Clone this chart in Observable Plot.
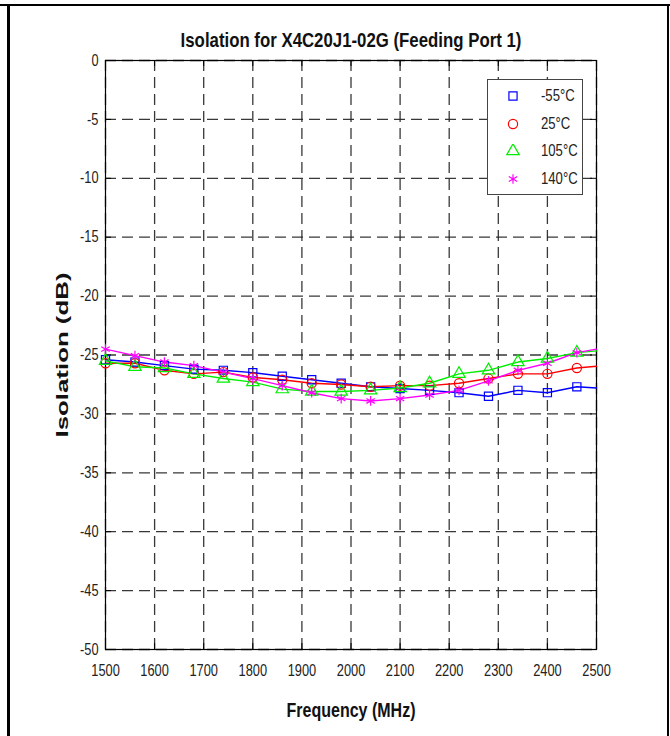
<!DOCTYPE html>
<html>
<head>
<meta charset="utf-8">
<script src="https://cdn.jsdelivr.net/npm/d3@7"></script>
<script src="https://cdn.jsdelivr.net/npm/@observablehq/plot@0.6"></script>
<style>
  body { margin: 0; background: #fff; }
  #wrap { position: relative; width: 670px; height: 736px; overflow: hidden; }
  .ln { position: absolute; background: #000; }
  #legend {
    position: absolute; left: 487px; top: 79px; width: 96px; height: 116px;
    background: #fff; border: 1px solid #444; box-sizing: border-box;
    font-family: "Liberation Sans", Arial, sans-serif; font-size: 16px; color: #222;
  }
  #legend .row { position: absolute; left: 0; height: 20px; width: 92px; }
  #legend svg { position: absolute; left: 18px; top: 3px; }
  #legend span { position: absolute; left: 53px; top: 1px; white-space: nowrap; display: inline-block; transform: scaleX(0.82); transform-origin: left center; }
</style>
</head>
<body>
<div id="wrap">
  <div id="chart"></div>
  <div class="ln" style="left:0;top:4px;width:670px;height:2px"></div>
  <div class="ln" style="left:7px;top:4px;width:3px;height:732px"></div>
  <div class="ln" style="left:667px;top:4px;width:2px;height:732px"></div>
  <div id="legend"></div>
</div>
<script>
// ---- data ----
const titleText = "Isolation for X4C20J1-02G (Feeding Port 1)";
const xLabel = "Frequency (MHz)";
const yLabel = "Isolation (dB)";
const xTicks = [1500, 1600, 1700, 1800, 1900, 2000, 2100, 2200, 2300, 2400, 2500];
const yTicks = [0, -5, -10, -15, -20, -25, -30, -35, -40, -45, -50];
const seriesLabels = ["-55°C", "25°C", "105°C", "140°C"];
const seriesColors = ["#0000ff", "#ff0000", "#00ee00", "#ff00ff"];
const seriesSymbols = ["square", "circle", "triangle", "asterisk"];
// frequencies (MHz); markers are shown up to 2460, lines run to 2500
const freq = [1500, 1560, 1620, 1680, 1740, 1800, 1860, 1920, 1980, 2040, 2100, 2160, 2220, 2280, 2340, 2400, 2460, 2500];
const iso_m55 = [-25.4, -25.6, -25.9, -26.2, -26.3, -26.5, -26.8, -27.1, -27.4, -27.7, -27.85, -28.0, -28.2, -28.5, -28.0, -28.2, -27.7, -27.8];
const iso_25  = [-25.7, -25.7, -26.3, -26.6, -26.45, -26.9, -27.1, -27.4, -27.5, -27.7, -27.6, -27.6, -27.4, -27.0, -26.6, -26.6, -26.1, -25.95];
const iso_105 = [-25.5, -26.0, -26.1, -26.6, -27.0, -27.3, -27.9, -28.1, -28.1, -28.0, -27.8, -27.4, -26.6, -26.3, -25.6, -25.3, -24.8, -24.65];
const iso_140 = [-24.5, -25.05, -25.6, -25.9, -26.45, -27.0, -27.6, -28.2, -28.7, -28.9, -28.7, -28.4, -28.0, -27.2, -26.3, -25.7, -24.8, -24.5];
const lastMarkerFreq = 2460;

const seriesValues = [iso_m55, iso_25, iso_105, iso_140];
const rows = [];
seriesValues.forEach((vals, i) => vals.forEach((v, j) => rows.push({series: seriesLabels[i], f: freq[j], v})));
const markerRows = rows.filter(d => d.f <= lastMarkerFreq);

const W = 670, H = 736;
const mL = 105, mR = 74, mT = 60, mB = 87;
const plotW = W - mL - mR, plotH = H - mT - mB;
const sans = '"Liberation Sans", Arial, sans-serif';
const gridStyle = {stroke: "#222", strokeOpacity: 0.9, strokeWidth: 1.3, strokeDasharray: "11,6"};

const chart = Plot.plot({
  width: W, height: H,
  marginLeft: mL, marginRight: mR, marginTop: mT, marginBottom: mB,
  style: {fontFamily: sans, fontSize: "16px", color: "#222", background: "transparent"},
  x: {domain: [1500, 2500]},
  y: {domain: [-50, 0]},
  color: {domain: seriesLabels, range: seriesColors},
  symbol: {domain: seriesLabels, range: seriesSymbols},
  marks: [
    Plot.gridX(xTicks, gridStyle),
    Plot.gridY(yTicks, gridStyle),
    Plot.tickX(xTicks, {x: d => d, stroke: "#000", insetBottom: plotH - 6}),
    Plot.tickX(xTicks, {x: d => d, stroke: "#000", insetTop: plotH - 6}),
    Plot.tickY(yTicks, {y: d => d, stroke: "#000", insetRight: plotW - 6}),
    Plot.tickY(yTicks, {y: d => d, stroke: "#000", insetLeft: plotW - 6}),
    Plot.frame({stroke: "#000", strokeWidth: 1.2}),
    Plot.axisX(xTicks, {tickSize: 0, tickPadding: 15, label: null, fontSize: 16, tickFormat: d => String(d), className: "narrow"}),
    Plot.axisY(yTicks, {tickSize: 0, tickPadding: 7, label: null, fontSize: 16, tickFormat: d => String(d), className: "narrow"}),
    Plot.line(rows, {x: "f", y: "v", z: "series", stroke: "series", strokeWidth: 1.4}),
    Plot.dot(markerRows, {x: "f", y: "v", symbol: "series", stroke: "series", fill: "none", r: 4.6, strokeWidth: 1.2}),
    Plot.text([titleText], {text: d => d, frameAnchor: "top", dy: -28, fontSize: 21, fontWeight: "bold", fill: "#111", className: "narrowT"}),
    Plot.text([xLabel], {text: d => d, frameAnchor: "bottom", dy: 67, fontSize: 20, fontWeight: "bold", fill: "#111", className: "narrowT"}),
    Plot.text([yLabel], {text: d => d, frameAnchor: "left", dx: -43, rotate: -90, fontSize: 17, fontWeight: "bold", fill: "#111", className: "ylab"})
  ]
});
document.getElementById("chart").appendChild(chart);
// condensed look of the original figure fonts
function condense(sel, k) {
  d3.select(chart).selectAll(sel).each(function() {
    const L = this.getComputedTextLength();
    this.setAttribute("textLength", (L * k).toFixed(1));
    this.setAttribute("lengthAdjust", "spacingAndGlyphs");
  });
}
condense(".narrow text", 0.8);
condense(".narrowT text", 0.8);
// stretched vertical axis label, centred on the frame
const yLabLen = 165;
d3.select(chart).selectAll(".ylab text")
  .attr("text-anchor", "start")
  .attr("x", -yLabLen / 2)
  .attr("textLength", yLabLen)
  .attr("lengthAdjust", "spacingAndGlyphs");

// legend
const leg = d3.select("#legend");
const rowTops = [6, 34, 61, 89];
const symMap = {square: d3.symbolSquare, circle: d3.symbolCircle, triangle: d3.symbolTriangle, asterisk: d3.symbolAsterisk};
seriesLabels.forEach((lab, i) => {
  const r = leg.append("div").attr("class", "row").style("top", rowTops[i] + "px");
  const s = r.append("svg").attr("width", 14).attr("height", 14);
  s.append("path")
    .attr("transform", "translate(7,7)")
    .attr("d", d3.symbol(symMap[seriesSymbols[i]], 4.6 * 4.6 * Math.PI)())
    .attr("fill", "none").attr("stroke", seriesColors[i]).attr("stroke-width", 1.2);
  r.append("span").text(lab);
});
</script>
</body>
</html>
